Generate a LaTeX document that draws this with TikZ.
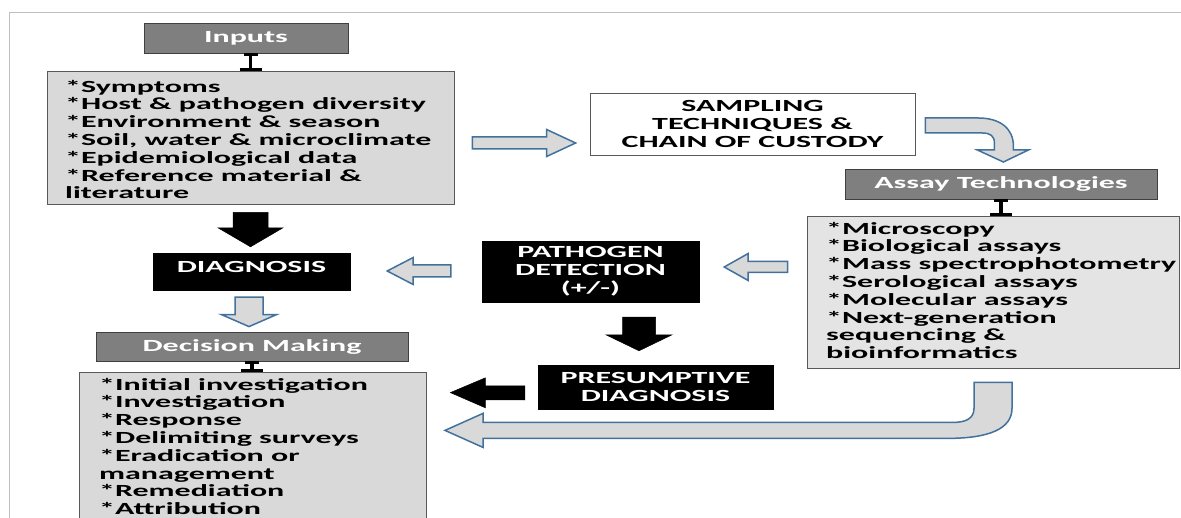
\documentclass[tikz,border=0pt]{standalone}
\usepackage{fontspec}
\newfontfamily\cf{Carlito}[FakeStretch=1.88]
\usetikzlibrary{calc}
\definecolor{hdr}{HTML}{7F7F7F}
\definecolor{hdrline}{HTML}{404040}
\definecolor{lst}{HTML}{D9D9D9}
\definecolor{lsttwo}{HTML}{E4E4E4}
\definecolor{boxline}{HTML}{595959}
\definecolor{arrline}{HTML}{41719C}
\definecolor{arrfill}{HTML}{D9D9D9}
\definecolor{framecol}{HTML}{BFBFBF}
\tikzset{
 basefont/.style={font=\cf\bfseries\fontsize{17}{17.8}\selectfont},
 hdrbox/.style={basefont, rectangle, fill=hdr, draw=hdrline, line width=0.8pt, text=white, inner sep=0pt},
 listbox/.style={rectangle, fill=lst, draw=boxline, line width=0.8pt, inner sep=0pt},
 listtext/.style={basefont, align=left, inner sep=0pt, anchor=north west, text=black},
 blackbox/.style={basefont, rectangle, fill=black, draw=black, text=white, align=center, inner sep=0pt},
 whitebox/.style={basefont, rectangle, fill=white, draw=boxline, line width=0.8pt, align=center, inner sep=0pt, text=black},
 hollow/.style={draw=arrline, fill=arrfill, line width=1.5pt, line join=miter},
 blackarrow/.style={fill=black, draw=black, line width=0.5pt, line join=miter},
 ibeamstem/.style={line width=3.5pt, draw=black},
 ibeambar/.style={line width=2.5pt, draw=black},
 framerule/.style={draw=framecol, line width=1pt},
}
% block arrow: style, tail, tip, shaft half width, head half width, head length
\newcommand\blockarrow[6]{%
  \coordinate (bah) at ($(#3)!#6!(#2)$);
  \draw[#1] ($(#2)!#4!90:(#3)$) -- ($(bah)!#4!90:(#3)$) -- ($(bah)!#5!90:(#3)$) -- (#3)
    -- ($(bah)!#5!-90:(#3)$) -- ($(bah)!#4!-90:(#3)$) -- ($(#2)!#4!-90:(#3)$) -- cycle;}
% I-beam connector between a top point and a bottom point
\newcommand\ibeam[2]{%
  \draw[ibeamstem] (#1) -- (#2);
  \draw[ibeambar] ($(#1)+(-7,1.2)$) -- ($(#1)+(7,1.2)$);
  \draw[ibeambar] ($(#2)+(-11,-1.2)$) -- ($(#2)+(11,-1.2)$);}
\begin{document}
\begin{tikzpicture}[x=1pt,y=-1pt]
\useasboundingbox (0,0) rectangle (1181,518);
\clip (0,0) rectangle (1181,518);
\draw[framerule] (9,518) -- (9,13) -- (1181,13);

% boxes
\node[hdrbox, minimum width=204pt, minimum height=30pt] (inhead) at (246,38) {Inputs};
\node[listbox, minimum width=407pt, minimum height=133pt] (inbox) at (250.5,137.5) {};
\node[listtext] (intext) at (65,79.5) {\strut*Symptoms\\*Host \& pathogen diversity\\*Environment \& season\\*Soil, water \& microclimate\\*Epidemiological data\\*Reference material \&\\literature};

\node[whitebox, minimum width=325pt, minimum height=62pt] (samp) at (752.5,124) {SAMPLING\\TECHNIQUES \&\\CHAIN OF CUSTODY};

\node[hdrbox, minimum width=312pt, minimum height=30pt] (ashead) at (1001,184) {Assay Technologies};
\node[listbox, fill=lsttwo, minimum width=372pt, minimum height=152pt] (asbox) at (993,292) {};
\node[listtext] (astext) at (826,221.5) {\strut*Microscopy\\*Biological assays\\*Mass spectrophotometry\\*Serological assays\\*Molecular assays\\*Next-generation\\sequencing \&\\bioinformatics};

\node[blackbox, minimum width=217pt, minimum height=61pt] (path) at (590.5,271.5) {PATHOGEN\\DETECTION\\(+/-)};
\node[blackbox, minimum width=197pt, minimum height=37pt, text height=10.9pt, text depth=9pt] (diag) at (251.5,271.5) {DIAGNOSIS};
\node[blackbox, minimum width=235pt, minimum height=44pt] (pres) at (655.5,387) {PRESUMPTIVE\\DIAGNOSIS};

\node[hdrbox, minimum width=312pt, minimum height=29pt] (dechead) at (252,346.5) {Decision Making};
\node[listbox, minimum width=347pt, minimum height=160pt] (decbox) at (252.5,452) {};
\node[listtext] (dectext) at (99,377.5) {\strut*Initial investigation\\*Investigation\\*Response\\*Delimiting surveys\\*Eradication or\\management\\*Remediation\\*Attribution};

% I-beams
\coordinate (ibA) at (inbox.north |- inhead.south);
\ibeam{ibA}{inbox.north}
\coordinate (ibB) at (ashead.south |- asbox.north);
\ibeam{ashead.south}{ibB}
\coordinate (ibC) at (dechead.south |- decbox.north);
\ibeam{dechead.south}{ibC}

% straight block arrows
\coordinate (a1t) at ($(inbox.east)+(18,5.5)$);
\coordinate (a1h) at ($(samp.west)+(-14,19)$);
\blockarrow{hollow}{a1t}{a1h}{6pt}{13.5pt}{29pt}

\coordinate (a3t) at ($(asbox.west)+(-19,-25)$);
\coordinate (a3h) at ($(path.east)+(25,-4.5)$);
\blockarrow{hollow}{a3t}{a3h}{5.5pt}{13.5pt}{24pt}

\coordinate (a4t) at ($(path.west)+(-31,-0.5)$);
\coordinate (a4h) at ($(diag.east)+(37,-0.5)$);
\blockarrow{hollow}{a4t}{a4h}{6pt}{13.5pt}{26pt}

\coordinate (a5t) at ($(inbox.south)+(0,8)$);
\coordinate (a5h) at ($(diag.north)+(-1,-6)$);
\blockarrow{blackarrow}{a5t}{a5h}{17.5pt}{32.5pt}{19pt}

\coordinate (a6t) at ($(diag.south)+(-2.5,7)$);
\coordinate (a6h) at ($(dechead.north)+(-3,-5)$);
\blockarrow{hollow}{a6t}{a6h}{14pt}{27.5pt}{12pt}

\coordinate (a7t) at ($(path.south)+(48.5,15)$);
\coordinate (a7h) at ($(pres.north)+(-16.5,-14)$);
\blockarrow{blackarrow}{a7t}{a7h}{16.5pt}{33pt}{16pt}

\coordinate (a8t) at ($(pres.west)+(-13,6)$);
\coordinate (a8h) at ($(decbox.north east)+(24,21)$);
\blockarrow{blackarrow}{a8t}{a8h}{7pt}{15pt}{35pt}

% curved arrow sampling -> assay
\begin{scope}[shift={(samp.east)}]
\draw[hollow] (10,-6) -- (63,-6) .. controls (84,-6) and (98,4) .. (98,22) -- (98,26)
  -- (113,26) -- (88,38) -- (62,26) -- (79,26) -- (79,19)
  .. controls (79,12) and (75,9) .. (67,9) -- (10,9) -- cycle;
\end{scope}

% U-turn arrow assay -> decision
\begin{scope}[shift={(asbox.south)}]
\draw[hollow] (19,14) -- (19,40) .. controls (19,60) and (-3,70) .. (-46,70)
  -- (-510,70) -- (-510,79) -- (-548,62) -- (-510,45) -- (-510,54) -- (-40,54)
  .. controls (-27,54) and (-19,50) .. (-19,40) -- (-19,14) -- cycle;
\end{scope}
\end{tikzpicture}
\end{document}
